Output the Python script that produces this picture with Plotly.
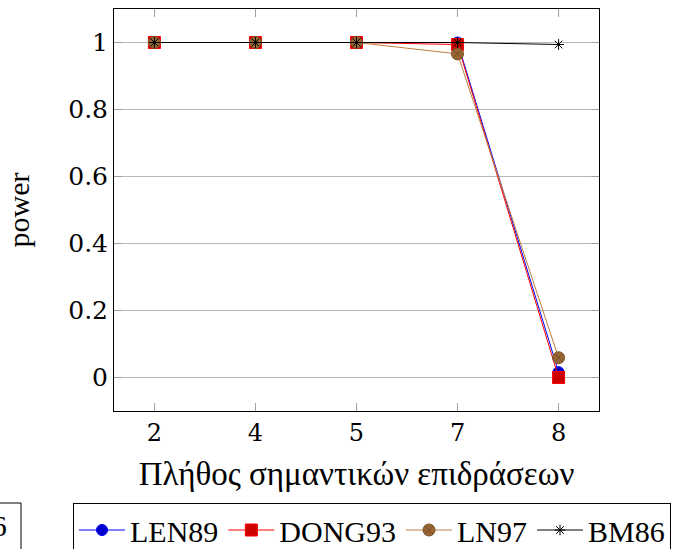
import plotly.graph_objects as go

# Number of significant effects (categorical x positions)
effects = ["2", "4", "5", "7", "8"]

# Power of each method
len89 = [1.0, 1.0, 1.0, 1.0, 0.016]
dong93 = [1.0, 1.0, 1.0, 0.994, 0.0]
ln97 = [1.0, 1.0, 1.0, 0.966, 0.059]
bm86 = [1.0, 1.0, 1.0, 1.0, 0.994]

y_ticks = [0, 0.2, 0.4, 0.6, 0.8, 1]
y_tick_labels = ["0", "0.2", "0.4", "0.6", "0.8", "1"]

SERIF = "Liberation Serif"
TICK_FONT = "DejaVu Serif"

# plot-area geometry in pixels
W, H = 689, 549
L, R, T, B = 114, 90, 9, 138
PW, PH = W - L - R, H - T - B


def px_x(p):
    return (p - L) / PW


def px_y(p):
    return (H - B - p) / PH


fig = go.Figure()

fig.add_trace(go.Scatter(
    x=effects, y=len89, name="LEN89", mode="lines+markers",
    line=dict(color="#0000ff", width=1),
    marker=dict(symbol="circle", size=11, color="#0000cc",
                line=dict(color="#0000ff", width=1)),
))
fig.add_trace(go.Scatter(
    x=effects, y=dong93, name="DONG93", mode="lines+markers",
    line=dict(color="#ff0000", width=1),
    marker=dict(symbol="square", size=12, color="#cc0000",
                line=dict(color="#ff0000", width=1)),
))
fig.add_trace(go.Scatter(
    x=effects, y=ln97, name="LN97", mode="lines+markers",
    line=dict(color="#bf8040", width=1),
    marker=dict(symbol="circle-x", size=12, color="#996633",
                line=dict(color="#7a4f28", width=1)),
))
fig.add_trace(go.Scatter(
    x=effects, y=bm86, name="BM86", mode="lines+markers",
    line=dict(color="#000000", width=1),
    marker=dict(symbol="asterisk-open", size=9, color="#000000",
                line=dict(color="#000000", width=1)),
))

fig.update_layout(
    width=W, height=H,
    margin=dict(l=L, r=R, t=T, b=B, autoexpand=False),
    paper_bgcolor="white", plot_bgcolor="white",
    font=dict(family=SERIF, size=28, color="black"),
    showlegend=True,
    legend=dict(
        orientation="h",
        x=px_x(73), xanchor="left",
        y=px_y(503), yanchor="top",
        bordercolor="black", borderwidth=1,
        font=dict(family=SERIF, size=30, color="black"),
        itemwidth=46,
        tracegroupgap=0,
    ),
)

fig.update_xaxes(
    type="category", range=[-0.4, 4.4],
    showline=True, linecolor="black", linewidth=1, mirror="ticks",
    ticks="inside", ticklen=8, tickcolor="#a0a0a0", tickwidth=1,
    showgrid=False, zeroline=False,
    tickfont=dict(family=TICK_FONT, size=24, color="black"),
    title=dict(text="Πλήθος σημαντικών επιδράσεων",
               font=dict(family=SERIF, size=33, color="black"), standoff=16),
)
fig.update_yaxes(
    range=[-0.1, 1.1],
    tickvals=y_ticks, ticktext=y_tick_labels,
    showline=True, linecolor="black", linewidth=1, mirror="ticks",
    ticks="inside", ticklen=8, tickcolor="#a0a0a0", tickwidth=1,
    showgrid=True, gridcolor="#b8b8b8", gridwidth=1, zeroline=False,
    tickfont=dict(family=TICK_FONT, size=25, color="black"),
    title=dict(text="power",
               font=dict(family=SERIF, size=30, color="black"), standoff=29),
)

# neighbouring legend box at the left edge, cut off by the page
fig.add_shape(type="rect", xref="paper", yref="paper",
              x0=px_x(-40), x1=px_x(21), y0=px_y(560), y1=px_y(503),
              line=dict(color="black", width=1), fillcolor="rgba(0,0,0,0)",
              layer="above")
fig.add_annotation(text="BM86", xref="paper", yref="paper",
                   x=px_x(9), y=px_y(525), xanchor="right", yanchor="middle",
                   showarrow=False,
                   font=dict(family=SERIF, size=30, color="black"))

fig.write_html("out.html")
